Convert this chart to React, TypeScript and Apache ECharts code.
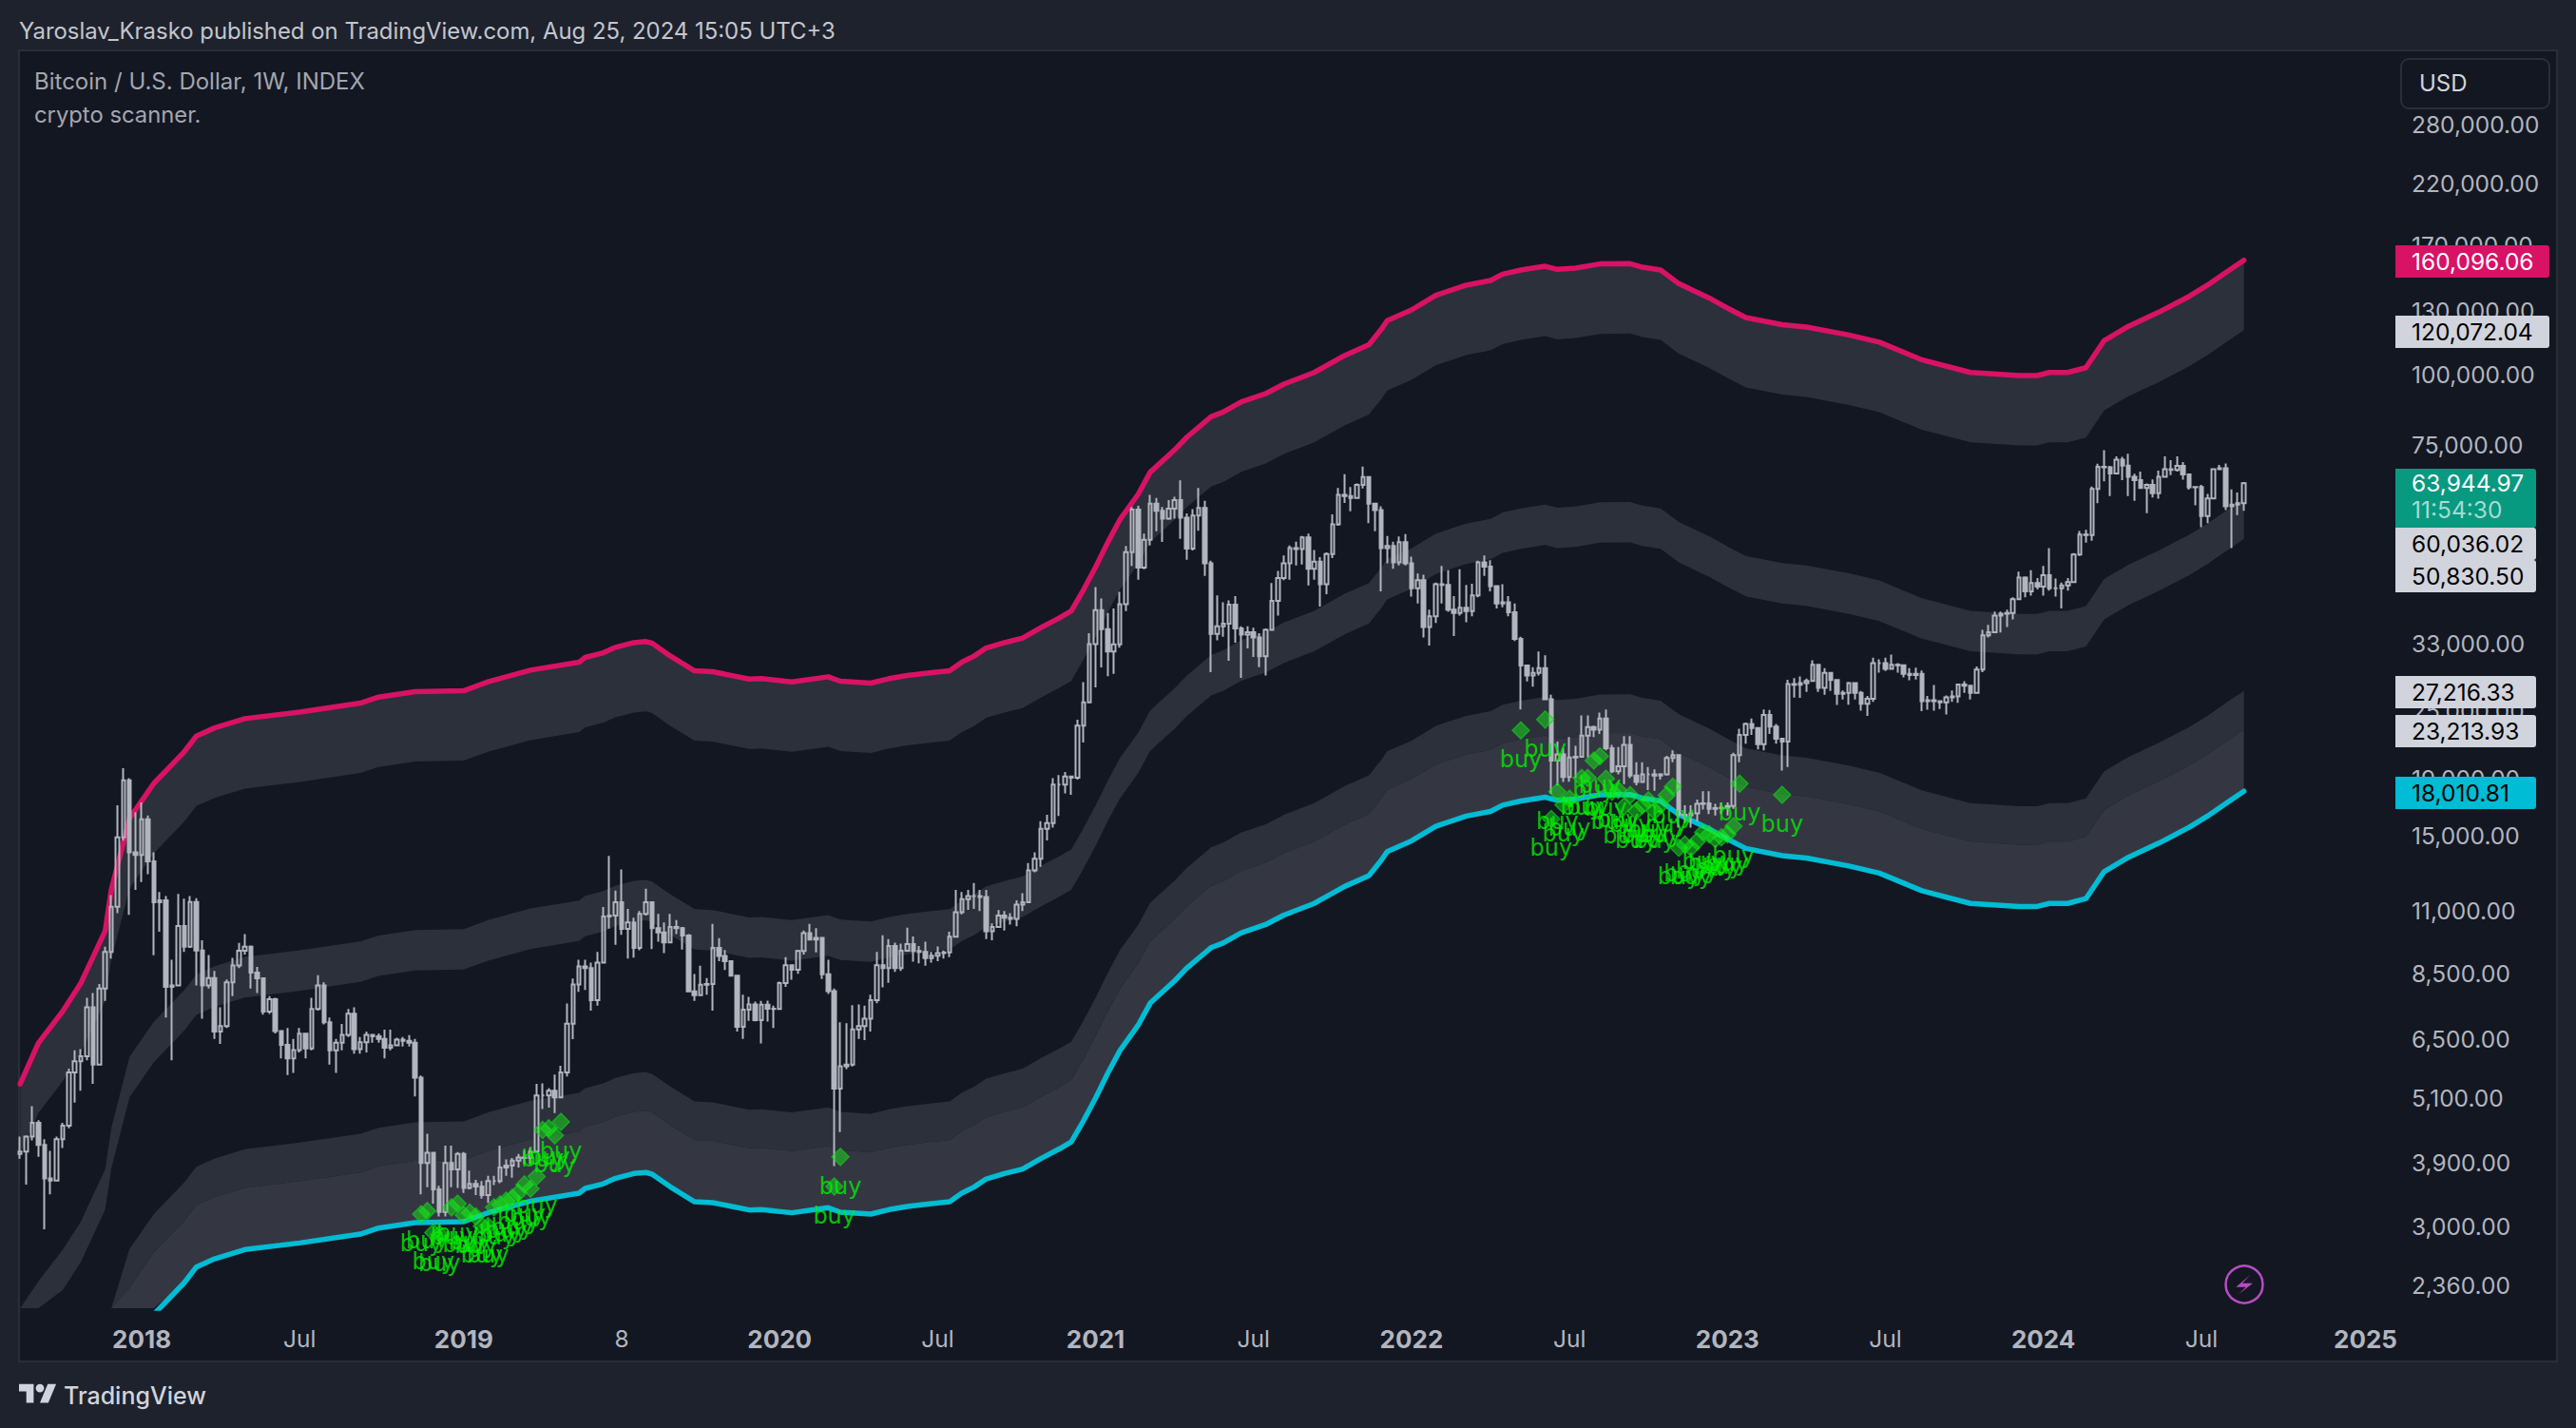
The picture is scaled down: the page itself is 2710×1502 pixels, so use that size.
import React, { useEffect, useRef } from "react";
import * as echarts from "echarts";

// Week labels: one Monday per candle, 20 weeks before 2018-01-01 up to the empty space right of the last candle.
const FIRST_WEEK_OFFSET = 20;
const categories: string[] = Array.from({ length: 393 }, (_, i) =>
  new Date(Date.UTC(2017, 7, 14) + i * 7 * 864e5).toISOString().slice(0, 10)
);

const xTickLabels: Record<string, string> = {
  "2018-01-01": "2018", "2018-07-02": "Jul", "2019-01-07": "2019", "2019-07-08": "8",
  "2020-01-06": "2020", "2020-07-06": "Jul", "2021-01-04": "2021", "2021-07-05": "Jul",
  "2022-01-03": "2022", "2022-07-04": "Jul", "2023-01-02": "2023", "2023-07-03": "Jul",
  "2024-01-01": "2024", "2024-07-01": "Jul", "2025-01-06": "2025",
};

const yTicks = [280000, 220000, 170000, 130000, 100000, 75000, 33000, 25000, 19000, 15000, 11000, 8500, 6500, 5100, 3900, 3000, 2360];

const firstOpen = 4050;
// Weekly candles. Each row holds ten weeks.
const closes = [
  4090,4350,4600,4200,3660,3630,4300,4550,5660,5930,
  6050,7400,5850,8000,9300,11200,14900,18830,14000,13850,
  16050,13500,11400,11500,8050,8100,10340,9500,11420,9350,
  8100,8350,6700,6850,8200,8790,9340,9500,8540,8340,
  7270,7650,6710,6340,6000,6210,6640,6250,7350,8100,
  6960,6200,6400,6610,7210,6230,6410,6610,6570,6500,
  6270,6330,6480,6450,6400,5540,3900,4070,3500,3190,
  3900,3800,4050,3520,3580,3540,3420,3620,3620,3830,
  3860,3940,3990,3980,4090,5150,5150,5250,5110,5660,
  6920,8130,8760,8700,7620,8900,10760,10800,11400,10220,
  10500,9450,10870,11400,10250,10070,9670,10300,10250,9950,
  7900,7780,8120,8150,9450,9140,8950,8430,6830,7330,
  7490,7020,7480,7360,7350,8180,8800,8640,9330,10040,
  9780,9850,8480,7910,5300,5810,5850,6760,6850,7060,
  7620,8800,8700,9530,8700,9340,9600,9330,9300,9060,
  9150,9250,9280,9900,10950,11550,11700,11700,11650,10120,
  10300,10800,10700,10650,11300,11400,13000,13640,15430,15800,
  18500,18500,19130,19050,23580,25950,33000,37960,35100,32000,
  32950,38900,48150,57400,45200,50680,58800,57100,55300,57600,
  59700,55500,48900,56000,57800,46000,34400,35500,35900,38800,
  35200,34300,34650,33900,31400,35000,39400,43300,46000,49000,
  48800,51200,45000,46300,42200,47800,54000,61000,60700,60200,
  63500,65600,58800,57300,49000,49400,46200,50200,46000,41500,
  42900,35400,37000,42200,42100,38000,37500,38300,37800,40300,
  46200,45400,41900,39000,39200,37600,33700,30200,29000,29300,
  29900,26300,20430,20950,19100,20700,20750,22650,23450,23200,
  24300,21500,19550,19950,21800,19200,18700,19300,19300,19200,
  19300,20650,20900,16350,16300,16450,17100,17130,16750,16800,
  16830,16950,20900,22700,23750,23350,21850,24650,23500,22350,
  22100,28000,27900,28100,28350,30300,27550,29300,28450,26900,
  27000,28100,27000,25800,26350,30500,30500,29800,30300,30250,
  29200,29050,29200,26100,26200,26100,25950,26500,26600,27950,
  27800,27000,29700,34200,34650,37100,37400,37500,39700,43400,
  41000,42400,41800,43800,41500,41500,42000,42600,47700,51800,
  51700,62500,68400,68300,66600,70500,68800,65700,64800,62700,
  63500,61400,65700,67800,67600,68700,66300,62900,63000,55900,
  60100,67800,68000,58200,58600,58900,63945,
];
const highs = [
  4350,4370,4930,4650,4300,4100,4350,4600,5750,6200,
  6230,7700,7850,8150,9500,11750,17000,19800,19000,16500,
  17200,16300,14000,11900,11700,9000,11800,11570,11700,11600,
  9750,9180,8600,7400,8300,9070,9650,10000,9550,8740,
  8350,7750,7700,6710,6800,6500,6800,6650,7700,8450,
  8200,7100,6500,6910,7350,7400,6550,6700,6600,6650,
  6750,6750,6530,6550,6600,6500,5590,4400,4050,3550,
  4190,4190,4080,4080,3780,3640,3620,3700,3700,4190,
  3960,3980,4050,4110,4150,5400,5415,5310,5610,5820,
  7520,8330,9000,9000,8900,9300,11190,13800,11970,13050,
  11100,10700,11000,12060,11400,10870,10500,10870,10600,10300,
  10000,8490,8780,8350,10430,9840,9370,8950,8430,7800,
  7730,7580,7600,7610,7450,8230,9100,8800,9380,10150,
  10430,10250,9880,9000,8000,6960,6930,7470,7490,7450,
  7800,9300,9960,9800,9660,9620,10270,9910,9530,9700,
  9300,9510,9350,10100,12000,11900,12000,12350,12000,12000,
  10450,11040,11000,10900,11500,11840,13400,14000,15920,16350,
  19000,19250,19500,19200,24170,28200,34500,41700,39800,37500,
  38200,40900,49400,58000,58300,52000,61000,60200,58000,59700,
  60500,64700,56500,57500,62700,59500,46500,40300,39200,39500,
  40200,35500,35500,35300,34500,35200,42400,44600,47500,49500,
  50300,51500,52000,48600,47200,48100,56300,62700,66400,63000,
  63900,68500,65800,59000,58200,51500,50300,51400,51900,47300,
  44130,43900,38000,42500,45500,44700,40200,44900,42100,42300,
  46500,47500,46600,41900,42200,40200,39000,34000,30300,30000,
  32000,31500,26800,22100,21500,22500,21700,24600,24600,23600,
  24900,25200,21800,21600,22600,22600,20300,20300,19900,19700,
  19400,20830,21300,20900,17000,17000,17400,18000,18000,17100,
  17200,17200,21100,23290,23900,24300,23300,25200,25170,23740,
  22400,28500,28680,28870,28620,30870,30300,29890,29400,28440,
  27270,28240,28200,27220,26650,31200,31000,31200,31610,30500,
  29960,29890,29960,29600,26650,27870,26100,26710,27250,28000,
  28330,27900,30100,35000,35710,37710,37710,38000,40000,44450,
  43600,44700,43300,45500,48960,43200,42500,43300,48000,52570,
  52800,63100,69300,73300,68700,71450,71270,72200,66510,67130,
  63900,65000,67380,71450,70330,71450,69800,66000,63130,63540,
  61200,68000,69000,69400,62340,61600,64300,
];
const lows = [
  3970,3570,4280,4000,2970,3430,3650,4150,4500,5000,
  5250,5950,5400,5850,7600,9050,10900,14700,10830,12000,
  12400,12800,9170,10100,7100,5950,8100,9300,9450,8100,
  7060,8000,6500,6370,6800,7750,8700,9200,8000,7850,
  7180,7200,6650,6000,5600,5650,6150,6000,6200,7300,
  6900,5850,5650,6200,6550,6120,6120,6150,6400,6400,
  6000,6200,6350,6300,6300,5130,3430,3530,3300,3130,
  3130,3530,3520,3450,3500,3420,3370,3310,3560,3590,
  3700,3670,3830,3880,3880,4070,4870,4900,4790,5090,
  5570,6490,7890,7950,7300,7450,8870,10230,9570,9980,
  9050,9080,9360,10800,9410,9700,9250,9640,10000,9390,
  7900,7600,7750,7800,7300,8950,8630,8400,6700,6500,
  7000,6990,6380,6980,6800,7330,8050,8290,8500,9200,
  9750,9280,8320,7820,3850,4430,5740,5800,6500,6470,
  6700,7530,8040,8190,8560,8600,9500,8930,8870,8780,
  8900,8950,9050,9100,9900,10850,11050,11100,11000,9800,
  9750,10260,10150,10400,10330,11000,11450,12900,13200,14710,
  15500,16260,17850,17740,18900,22000,25900,27600,29990,28900,
  29200,32500,37800,45500,43000,44900,49500,52500,50250,55000,
  55300,50900,46700,48500,52600,43700,29400,33500,34000,30800,
  33200,28700,32400,31300,30000,29000,34900,37100,42900,43000,
  45600,45800,42000,43000,38500,40500,47000,53700,59000,57000,
  60000,62600,54300,52500,41000,46000,45000,45600,45600,40100,
  39000,33900,32800,36000,39000,37700,34100,37100,36100,37000,
  40000,43700,41000,38200,38400,37000,33400,25200,28300,27700,
  29000,26200,17800,18430,18700,18720,19000,20750,20700,22500,
  22800,21300,19400,19300,18540,19000,18450,18800,18100,18050,
  18900,19200,20300,15500,15800,15500,15900,16700,16400,16300,
  16400,16300,16750,20300,21900,22700,21400,21300,22800,21900,
  19600,19900,26480,26440,27100,28240,27100,26800,27220,25680,
  26260,25720,26260,25100,24550,26000,29350,29530,30000,29350,
  28770,28440,28510,25040,25180,25100,25270,24700,26000,25900,
  27000,26260,26900,29400,33900,34530,34600,35400,36510,39600,
  40000,40260,41300,40260,41100,40100,38200,41100,42700,47400,
  50100,50500,58900,64500,60660,66300,64800,60660,59500,62500,
  56540,60300,60000,65400,66100,67100,64900,62300,58400,53360,
  54300,60200,67700,57280,48960,56100,57100,
];

// The upper curve, read at the weeks where it visibly bends (weeks counted from 2018-01-01).
const topWeeks = [
  -20,-17,-13,-10,-6,-5,-2,2,7,9,12,17,26,36,39,45,53,57,64,72,
  73,76,78,81,83,84,87,91,94,100,102,107,113,115,120,123,126,130,133,135,
  137,139,142,145,148,151,153,155,157,159,161,164,166,170,172,176,178,181,185,188,
  193,198,202,204,205,209,213,218,222,224,227,231,233,236,240,245,247,250,253,258,
  261,264,270,274,281,286,293,301,309,312,314,317,320,323,327,332,337,340,343,346,
];
const topValues = [
  5400,6390,7280,8180,10140,12000,16100,18600,21180,22600,23370,24280,24950,25880,26530,27130,27230,28250,29640,30620,
  31230,31840,32560,33200,33340,33120,31430,29560,29450,28580,28620,28250,28840,28320,28100,28620,28990,29340,29560,30640,
  31400,32470,33190,33820,35310,36730,37800,41220,45300,50120,55040,61090,66950,73340,77260,84090,85740,89410,92490,96180,
  100900,108200,113100,120400,124900,130500,138600,144500,147300,151200,153800,156200,154200,155000,157700,157900,155600,153800,145400,137100,
  131500,126500,122800,121600,117700,114300,106300,100900,99640,99640,100900,100900,102900,115000,122000,129300,138000,144500,152200,160096.06,
];

// Last value of each of the seven curves, as printed on the price tags. The tags show every curve is the
// upper curve times a fixed ratio, so the other six are scaled from the curve read above.
const curveLevels = [160096.06, 120072.04, 60036.02, 50830.5, 27216.33, 23213.93, 18010.81];

// Buy signals: week (from 2018-01-01) and price of each diamond.
const buyWeeks = [
  46,47,48,49,51,52,53,54,55,56,57,58,59,60,61,62,63,64,65,66,67,68,69,114,115,
  227,231,232,233,234,235,237,238,239,240,241,242,243,244,245,246,247,248,249,250,251,252,
  253,254,255,256,257,258,259,260,261,262,263,270,
];
const buyPrices = [
  3160,3200,2930,2910,3250,3300,3150,3180,3130,3010,3010,3250,3290,3340,3380,3450,3570,3510,3690,4470,4500,4370,4620,3540,4000,
  23130,24190,16060,17970,17030,17460,19020,19020,20430,20790,18960,17970,18100,16920,17720,16600,17010,17350,16600,17010,17720,18340,
  14270,14460,14270,14660,15200,15080,14800,14900,15080,15600,18580,17750,
];

const tagLabels = ["160,096.06", "120,072.04", "60,036.02", "50,830.50", "27,216.33", "23,213.93", "18,010.81"];
const tagClock = "11:54:30";
const tagLast = "63,944.97";

const FONT = "Inter, 'Noto Sans', sans-serif";
const GREY = "#b2b5be";
const RED = "#d81265";
const TEAL = "#00bcd4";
const BAND_A = "#2c303b";
const BAND_B = "#343742";

const ohlc = closes.map((c, i) => {
  const o = i === 0 ? firstOpen : closes[i - 1];
  return [o, c, Math.min(lows[i], o, c), Math.max(highs[i], o, c)];
});
const curve = (level: number): [number, number][] =>
  topWeeks.map((w, i) => [w + FIRST_WEEK_OFFSET, (topValues[i] * level) / curveLevels[0]]);

echarts.graphic.registerShape(
  "tvlogo",
  echarts.graphic.extendPath(
    "M14 25H7V14H0V7h14v18zM28 25h-8l7.5-18h8L28 25zM24 11a4 4 0 1 1-8 0 4 4 0 0 1 8 0z",
    {}
  )
);

function bandSeries(upper: number, lower: number, color: string) {
  const top = curve(upper);
  const bottom = curve(lower).reverse();
  return {
    type: "custom",
    z: 1,
    silent: true,
    data: [[top[0][0], top[0][1]]],
    renderItem: (params: any, api: any) => {
      const pts = top.concat(bottom).map((p) => api.coord(p));
      return {
        type: "polygon",
        shape: { points: echarts.graphic.clipPointsByRect(pts, params.coordSys as any) },
        style: { fill: color },
      };
    },
  };
}

function lineSeries(level: number, color: string) {
  return {
    type: "line",
    z: 2,
    silent: true,
    symbol: "none",
    data: curve(level),
    lineStyle: { color, width: 5.5, cap: "round", join: "round" },
  };
}

function tag(label: string, y: number, right: number, bg: string, fg: string) {
  return [
    { type: "rect", z: 50, shape: { x: 2520, y: y - 17, width: right - 2520, height: 34, r: [0, 3, 3, 0] }, style: { fill: bg } },
    {
      type: "text", z: 60, x: 2537, y,
      style: { text: label, fill: fg, font: `24.5px ${FONT}`, textAlign: "left", verticalAlign: "middle", textVerticalAlign: "middle" },
    },
  ];
}

function plainText(text: string, x: number, y: number, fill: string, font: string) {
  return { type: "text", z: 60, x, y, style: { text, fill, font, textAlign: "left", verticalAlign: "middle", textVerticalAlign: "middle" } };
}

export default function App() {
  const ref = useRef<HTMLDivElement>(null);
  useEffect(() => {
    const chart = echarts.init(ref.current!, null, { renderer: "svg", width: 2710, height: 1502 });
    chart.setOption({
      animation: false,
      backgroundColor: "#1e222d",
      tooltip: { show: false },
      grid: { left: 18, top: 53, width: 2512, bottom: 126, containLabel: false },
      xAxis: {
        type: "category",
        data: categories,
        boundaryGap: true,
        axisLine: { show: false },
        axisTick: { show: false },
        splitLine: { show: false },
        axisLabel: {
          interval: (_: number, v: string) => v in xTickLabels,
          margin: 19,
          hideOverlap: false,
          formatter: (v: string) => {
            const t = xTickLabels[v] || "";
            return t.length === 4 ? `{y|${t}}` : `{m|${t}}`;
          },
          rich: {
            y: { color: GREY, fontFamily: FONT, fontSize: 26, fontWeight: 700 },
            m: { color: GREY, fontFamily: FONT, fontSize: 24.5 },
          },
        },
      },
      yAxis: {
        type: "log",
        position: "right",
        min: 2146,
        max: 379700,
        axisLine: { show: false },
        axisTick: { show: false },
        splitLine: { show: false },
        minorTick: { show: false },
        axisLabel: {
          customValues: yTicks,
          margin: 7,
          color: GREY,
          fontFamily: FONT,
          fontSize: 24.5,
          align: "left",
          showMinLabel: true,
          showMaxLabel: true,
          hideOverlap: false,
          formatter: (v: number) =>
            Number(v).toLocaleString("en-US", { minimumFractionDigits: 2, maximumFractionDigits: 2 }),
        },
      },
      series: [
        bandSeries(curveLevels[0], curveLevels[1], BAND_A),
        bandSeries(curveLevels[2], curveLevels[3], BAND_A),
        bandSeries(curveLevels[4], curveLevels[5], BAND_A),
        bandSeries(curveLevels[5], curveLevels[6], BAND_B),
        lineSeries(curveLevels[0], RED),
        lineSeries(curveLevels[6], TEAL),
        {
          type: "candlestick",
          z: 3,
          silent: true,
          barWidth: 4,
          data: ohlc,
          itemStyle: { color: "transparent", color0: GREY, borderColor: GREY, borderColor0: GREY, borderWidth: 2 },
        },
        {
          type: "scatter",
          z: 4,
          silent: true,
          symbol: "diamond",
          symbolSize: 18,
          data: buyWeeks.map((w, i) => [w + FIRST_WEEK_OFFSET, buyPrices[i]]),
          itemStyle: { color: "rgba(20,255,20,0.55)", borderColor: "rgba(20,210,30,0.75)", borderWidth: 1.5 },
          label: {
            show: true,
            position: "bottom",
            distance: 9,
            formatter: "buy",
            color: "#00f000",
            fontFamily: "'DejaVu Sans', sans-serif",
            fontSize: 24,
          },
        },
      ],
      graphic: [
        { type: "rect", z: -10, shape: { x: 20, y: 53, width: 2670, height: 1379 }, style: { fill: "#131722", stroke: "#2a2e39", lineWidth: 2 } },
        plainText("Yaroslav_Krasko published on TradingView.com, Aug 25, 2024 15:05 UTC+3", 20, 32, "#c3c6ce", `23.9px ${FONT}`),
        plainText("Bitcoin / U.S. Dollar, 1W, INDEX", 36, 85, "#a3a6af", `24px ${FONT}`),
        plainText("crypto scanner.", 36, 120, "#a3a6af", `23.8px ${FONT}`),
        { type: "rect", z: 40, shape: { x: 2526, y: 62, width: 156, height: 52, r: 8 }, style: { fill: "#131722", stroke: "#2a2e39", lineWidth: 2 } },
        plainText("USD", 2545, 87, "#d1d4dc", `24px ${FONT}`),
        ...tag(tagLabels[0], 275, 2682, RED, "#ffffff"),
        ...tag(tagLabels[1], 349, 2682, "#d1d4dc", "#000000"),
        { type: "rect", z: 50, shape: { x: 2520, y: 493, width: 148, height: 62, r: [0, 3, 3, 0] }, style: { fill: "#089981" } },
        plainText(tagLast, 2537, 508, "#ffffff", `24.5px ${FONT}`),
        plainText(tagClock, 2537, 536, "#a5dccf", `24.5px ${FONT}`),
        ...tag(tagLabels[2], 572, 2668, "#d1d4dc", "#000000"),
        ...tag(tagLabels[3], 606, 2668, "#d1d4dc", "#000000"),
        ...tag(tagLabels[4], 728, 2668, "#d1d4dc", "#000000"),
        ...tag(tagLabels[5], 769, 2668, "#d1d4dc", "#000000"),
        ...tag(tagLabels[6], 834, 2668, TEAL, "#000000"),
        { type: "circle", z: 40, shape: { cx: 2361, cy: 1351, r: 19.5 }, style: { fill: "transparent", stroke: "#b84cc4", lineWidth: 2.5 } },
        {
          type: "polygon", z: 40, x: 2361, y: 1351,
          shape: { points: [[6.3, -10], [-2, -1.3], [9, -1.3], [-6, 10.3], [1.7, 2.7], [-8.7, 2.7]] },
          style: { fill: "#b84cc4" },
        },
        { type: "tvlogo", z: 40, x: 20, y: 1448, scaleX: 1.1, scaleY: 1.1, style: { fill: "#d1d4dc" } },
        plainText("TradingView", 67, 1468, "#d1d4dc", `500 25px ${FONT}`),
      ],
    });
    return () => chart.dispose();
  }, []);
  return <div ref={ref} style={{ position: "absolute", left: 0, top: 0, width: 2710, height: 1502 }} />;
}
